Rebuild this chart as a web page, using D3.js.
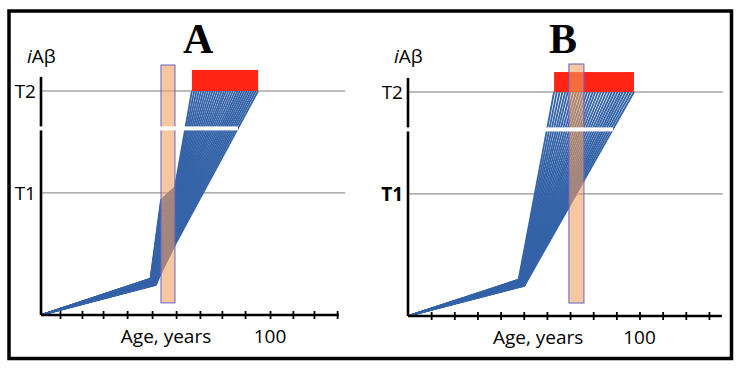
<!DOCTYPE html>
<html lang="en">
<head>
<meta charset="UTF-8">
<title>iAβ trajectories, A and B</title>
<style>
  body { margin: 0; background: #fff; }
  text { font-family: "Open Sans", sans-serif; }
</style>
</head>
<body>
<div id="chart"></div>
<script src="https://d3js.org/d3.v7.min.js"></script>
<script>
// thresholds on the iAβ axis (arbitrary units)
const T1 = 54.5, T2 = 100;
const axisBreak = 83.3;

// knee of every trajectory (shared by both panels)
const kneeAge = [47.8, 47.9, 48.0, 48.0, 48.1, 48.2, 48.3, 48.4, 48.5, 48.5, 48.6, 48.7, 48.8, 48.9, 48.9,
                 49.0, 49.1, 49.2, 49.3, 49.4, 49.5, 49.5, 49.6, 49.7, 49.8, 49.9, 49.9, 50.0, 50.1, 50.2];
const kneeLevel = [16.3, 16.2, 16.1, 16.0, 15.9, 15.8, 15.7, 15.6, 15.5, 15.4, 15.3, 15.2, 15.1, 15.0, 14.9,
                   14.8, 14.7, 14.6, 14.5, 14.4, 14.3, 14.2, 14.1, 14.0, 13.9, 13.8, 13.7, 13.6, 13.5, 13.4];

// panel A: level where each trajectory enters / leaves the window, and age it reaches T2
const windowA = [52.4, 58.5];
const enterLevelA = [51.3, 50.2, 49.1, 47.9, 46.8, 45.7, 44.6, 43.4, 42.3, 41.2, 40.1, 39.0, 37.8, 36.7, 35.6,
                     34.5, 33.3, 32.2, 31.1, 30.0, 28.9, 27.7, 26.6, 25.5, 24.4, 23.2, 22.1, 21.0, 19.9, 18.8];
const leaveLevelA = [57.1, 56.2, 55.3, 54.4, 53.5, 52.6, 51.8, 50.9, 50.0, 49.1, 48.2, 47.3, 46.4, 45.5, 44.6,
                     43.7, 42.9, 42.0, 41.1, 40.2, 39.3, 38.4, 37.5, 36.6, 35.7, 34.8, 33.9, 33.1, 32.2, 31.3];
const endAgeA = [65.9, 66.9, 67.9, 68.9, 69.9, 70.9, 71.9, 72.9, 73.9, 74.9, 75.9, 76.9, 77.9, 78.9, 79.9,
                 80.8, 81.8, 82.8, 83.8, 84.8, 85.8, 86.8, 87.8, 88.8, 89.8, 90.8, 91.8, 92.8, 93.8, 94.8];
const plateauA = [65.9, 94.8, 109.4];
const ticksA = [8.3, 17.9, 27.1, 37.6, 48.5, 59.0, 69.4, 79.0, 89.1, 100, 110, 119.2, 129.3];

// panel B
const windowB = [69.5, 76.0];
const endAgeB = [63.1, 64.3, 65.5, 66.7, 67.9, 69.0, 70.2, 71.4, 72.6, 73.8, 75.0, 76.2, 77.4, 78.6, 79.8,
                 80.9, 82.1, 83.3, 84.5, 85.7, 86.9, 88.1, 89.3, 90.5, 91.7, 92.8, 94.0, 95.2, 96.4, 97.6];
const plateauB = [63.1, 97.6, 108.9];
const ticksB = [10, 20, 30, 40, 50, 60, 70, 80, 90, 100, 110, 120, 130];

const pathsA = kneeAge.map((a, i) => [[0, 0], [a, kneeLevel[i]], [windowA[0], enterLevelA[i]],
                                      [windowA[1], leaveLevelA[i]], [endAgeA[i], T2]]);
const pathsB = kneeAge.map((a, i) => [[0, 0], [a, kneeLevel[i]], [endAgeB[i], T2]]);

const panels = [
  { name: "A", left: 41, base: 315, pxYear: 2.29, paths: pathsA, win: windowA, winLevels: [5.4, 111.6],
    plateau: plateauA, ticks: ticksA, axisEnd: 130.1, lineEnd: 132.8, breakEnd: 86.0,
    titleAt: 68.6, ageAt: 54.6, boldT1: false },
  { name: "B", left: 408, base: 316, pxYear: 2.315, paths: pathsB, win: windowB, winLevels: [5.8, 112.5],
    plateau: plateauB, ticks: ticksB, axisEnd: 135.6, lineEnd: 136, breakEnd: 88.6,
    titleAt: 67, ageAt: 56.2, boldT1: true }
];

const svg = d3.select("#chart").append("svg")
    .attr("width", 739)
    .attr("height", 369);

svg.append("rect")
    .attr("x", 9).attr("y", 11)
    .attr("width", 722.5).attr("height", 347.5)
    .attr("fill", "none")
    .attr("stroke", "#000")
    .attr("stroke-width", 3.5);

panels.forEach(p => {
  const x = d3.scaleLinear().domain([0, 130]).range([p.left, p.left + 130 * p.pxYear]);
  const y = d3.scaleLinear().domain([0, 110]).range([p.base, p.base - 110 * 2.24]);
  const g = svg.append("g");

  // threshold lines
  [T1, T2].forEach(t => {
    g.append("line")
        .attr("x1", x(0)).attr("x2", x(p.lineEnd))
        .attr("y1", y(t)).attr("y2", y(t))
        .attr("stroke", "#7a7a7a")
        .attr("stroke-width", 1);
  });

  // plateau above T2
  g.append("rect")
      .attr("x", x(p.plateau[0]))
      .attr("y", y(p.plateau[2]))
      .attr("width", x(p.plateau[1]) - x(p.plateau[0]))
      .attr("height", y(T2) - y(p.plateau[2]))
      .attr("fill", "#ff2414");

  // trajectories
  const line = d3.line().x(d => x(d[0])).y(d => y(d[1]));
  g.selectAll("path.traj")
      .data(p.paths)
      .join("path")
      .attr("class", "traj")
      .attr("d", line)
      .attr("fill", "none")
      .attr("stroke", "#3563a8")
      .attr("stroke-width", 1.8)
      .attr("stroke-linejoin", "round");

  // treatment window
  g.append("rect")
      .attr("x", x(p.win[0]))
      .attr("y", y(p.winLevels[1]))
      .attr("width", x(p.win[1]) - x(p.win[0]))
      .attr("height", y(p.winLevels[0]) - y(p.winLevels[1]))
      .attr("fill", "#f29f5c")
      .attr("fill-opacity", 0.58)
      .attr("stroke", "#6262cc")
      .attr("stroke-width", 1);

  // axes
  g.append("line")
      .attr("x1", x(0)).attr("x2", x(0))
      .attr("y1", y(0)).attr("y2", y(106.3))
      .attr("stroke", "#000").attr("stroke-width", 2.6);
  g.append("line")
      .attr("x1", x(0)).attr("x2", x(p.axisEnd))
      .attr("y1", y(0)).attr("y2", y(0))
      .attr("stroke", "#000").attr("stroke-width", 2.6);
  const ax = g.append("g")
      .attr("transform", `translate(0,${y(0) - 4})`)
      .call(d3.axisBottom(x).tickValues(p.ticks).tickSize(8).tickFormat(""));
  ax.select(".domain").remove();
  ax.selectAll(".tick line").attr("stroke", "#000").attr("stroke-width", 1.8);

  // axis break
  g.append("rect")
      .attr("x", x(-3))
      .attr("y", y(axisBreak) - 2)
      .attr("width", x(p.breakEnd) - x(-3))
      .attr("height", 4)
      .attr("fill", "#fff");

  // labels
  g.append("text")
      .attr("x", x(p.titleAt)).attr("y", 53)
      .attr("text-anchor", "middle")
      .style("font-family", '"Liberation Serif", serif')
      .attr("font-weight", "bold")
      .attr("font-size", 42)
      .text(p.name);

  const yl = g.append("text")
      .attr("x", x(0) - 14).attr("y", 63)
      .attr("font-size", 19);
  yl.append("tspan").attr("font-style", "italic").text("i");
  yl.append("tspan").text("Aβ");

  g.append("text")
      .attr("x", x(0) - 5).attr("y", y(T2) + 7)
      .attr("text-anchor", "end")
      .attr("font-size", 19)
      .text("T2");
  g.append("text")
      .attr("x", x(0) - 5).attr("y", y(T1) + 7.5)
      .attr("text-anchor", "end")
      .attr("font-size", 19)
      .attr("font-weight", p.boldT1 ? "bold" : "normal")
      .text("T1");

  g.append("text")
      .attr("x", x(p.ageAt)).attr("y", y(0) + 28)
      .attr("text-anchor", "middle")
      .attr("font-size", 19)
      .text("Age, years");
  g.append("text")
      .attr("x", x(100)).attr("y", y(0) + 28)
      .attr("text-anchor", "middle")
      .attr("font-size", 19)
      .text("100");
});
</script>
</body>
</html>
